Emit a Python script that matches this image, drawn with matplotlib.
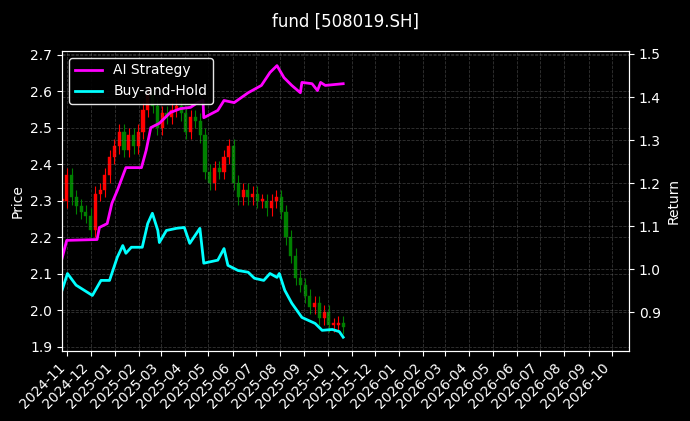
import matplotlib
matplotlib.use("Agg")
import matplotlib.pyplot as plt
import matplotlib.dates as mdates
import pandas as pd
import numpy as np

price_close = [2.30, 2.37, 2.31, 2.285, 2.27, 2.26, 2.22, 2.32, 2.33, 2.37, 2.42, 2.45, 2.49, 2.44,
               2.48, 2.45, 2.49, 2.55, 2.59, 2.56, 2.50, 2.54, 2.53, 2.55, 2.56, 2.54, 2.49, 2.53,
               2.52, 2.48, 2.38, 2.35, 2.39, 2.38, 2.42, 2.45, 2.35, 2.31, 2.33, 2.31, 2.32, 2.30,
               2.30, 2.28, 2.30, 2.31, 2.27, 2.20, 2.15, 2.09, 2.07, 2.04, 2.01, 2.02, 1.98, 1.995,
               1.96, 1.96, 1.965, 1.955]
price_start, price_end = "2024-10-25", "2025-10-21"

ai_dates = ["2024-10-25", "2024-10-31", "2024-12-09", "2024-12-12", "2024-12-22", "2024-12-28",
            "2025-01-04", "2025-01-15", "2025-02-04", "2025-02-10", "2025-02-16", "2025-02-27",
            "2025-03-13", "2025-03-26", "2025-04-08", "2025-04-17", "2025-04-24", "2025-04-25",
            "2025-05-13", "2025-05-21", "2025-06-03", "2025-06-21", "2025-07-08", "2025-07-19",
            "2025-07-28", "2025-08-06", "2025-08-16", "2025-08-27", "2025-08-29", "2025-09-11",
            "2025-09-18", "2025-09-22", "2025-09-28", "2025-10-21"]
ai_ret = [1.025, 1.067, 1.069, 1.097, 1.106, 1.153, 1.183, 1.236, 1.236, 1.276, 1.329, 1.339,
          1.364, 1.373, 1.376, 1.387, 1.392, 1.352, 1.369, 1.392, 1.387, 1.410, 1.427, 1.457,
          1.473, 1.445, 1.427, 1.410, 1.434, 1.431, 1.415, 1.434, 1.427, 1.431]

bh_dates = ["2024-10-25", "2024-11-01", "2024-11-12", "2024-12-03", "2024-12-14", "2024-12-25",
            "2025-01-04", "2025-01-11", "2025-01-15", "2025-01-22", "2025-02-05", "2025-02-12",
            "2025-02-18", "2025-02-25", "2025-02-27", "2025-03-08", "2025-03-21", "2025-03-31",
            "2025-04-07", "2025-04-20", "2025-04-25", "2025-05-13", "2025-05-21", "2025-05-26",
            "2025-06-08", "2025-06-21", "2025-06-29", "2025-07-11", "2025-07-19", "2025-07-28",
            "2025-07-31", "2025-08-07", "2025-08-16", "2025-08-29", "2025-09-15", "2025-09-24",
            "2025-10-07", "2025-10-16", "2025-10-21"]
bh_ret = [0.951, 0.990, 0.963, 0.939, 0.974, 0.974, 1.028, 1.055, 1.037, 1.051, 1.051, 1.106,
          1.130, 1.090, 1.062, 1.090, 1.095, 1.097, 1.060, 1.095, 1.014, 1.021, 1.048, 1.009,
          0.997, 0.993, 0.979, 0.974, 0.990, 0.981, 0.990, 0.951, 0.921, 0.888, 0.874, 0.858,
          0.860, 0.855, 0.842]

plt.style.use("dark_background")
fig = plt.figure(figsize=(6.9, 4.21), dpi=100)
ax = fig.add_axes([0.0899, 0.1663, 0.9116 - 0.0899, 0.8789 - 0.1663])
ax2 = ax.twinx()

pdates = pd.date_range(price_start, price_end, periods=len(price_close))
closes = np.array(price_close)
opens = np.concatenate([[closes[0]], closes[:-1]])
for d, o, c in zip(pdates, opens, closes):
    col = "#ff0000" if c >= o else "#008000"
    hi = max(o, c) + 0.02
    lo = min(o, c) - 0.02
    ax.vlines(d, lo, hi, color=col, linewidth=0.8)
    ax.bar(d, max(abs(c - o), 0.006), bottom=min(o, c), width=4, color=col, edgecolor=col, linewidth=0.3)

ax2.plot(pd.to_datetime(ai_dates), ai_ret, color="#ff00ff", linewidth=2, label="AI Strategy")
ax2.plot(pd.to_datetime(bh_dates), bh_ret, color="#00ffff", linewidth=2, label="Buy-and-Hold")

ax.set_ylim(1.889, 2.711)
ax2.set_ylim(0.81, 1.507)
ax.set_xlim(pd.Timestamp("2024-10-25"), pd.Timestamp("2026-10-23"))
ax.xaxis.set_major_locator(mdates.MonthLocator())
ax.xaxis.set_major_formatter(mdates.DateFormatter("%Y-%m"))
plt.setp(ax.get_xticklabels(), rotation=45, ha="right")
ax.set_ylabel("Price")
ax2.set_ylabel("Return")
ax.grid(True, linestyle="--", color="gray", alpha=0.4, linewidth=0.6)
ax2.grid(True, axis="y", linestyle="--", color="gray", alpha=0.4, linewidth=0.6)
leg = ax2.legend(loc="upper left", facecolor="black", edgecolor="white", framealpha=0.9)
fig.suptitle("fund [508019.SH]", y=0.97, fontsize=12)
fig.savefig("out.png", dpi=100)
